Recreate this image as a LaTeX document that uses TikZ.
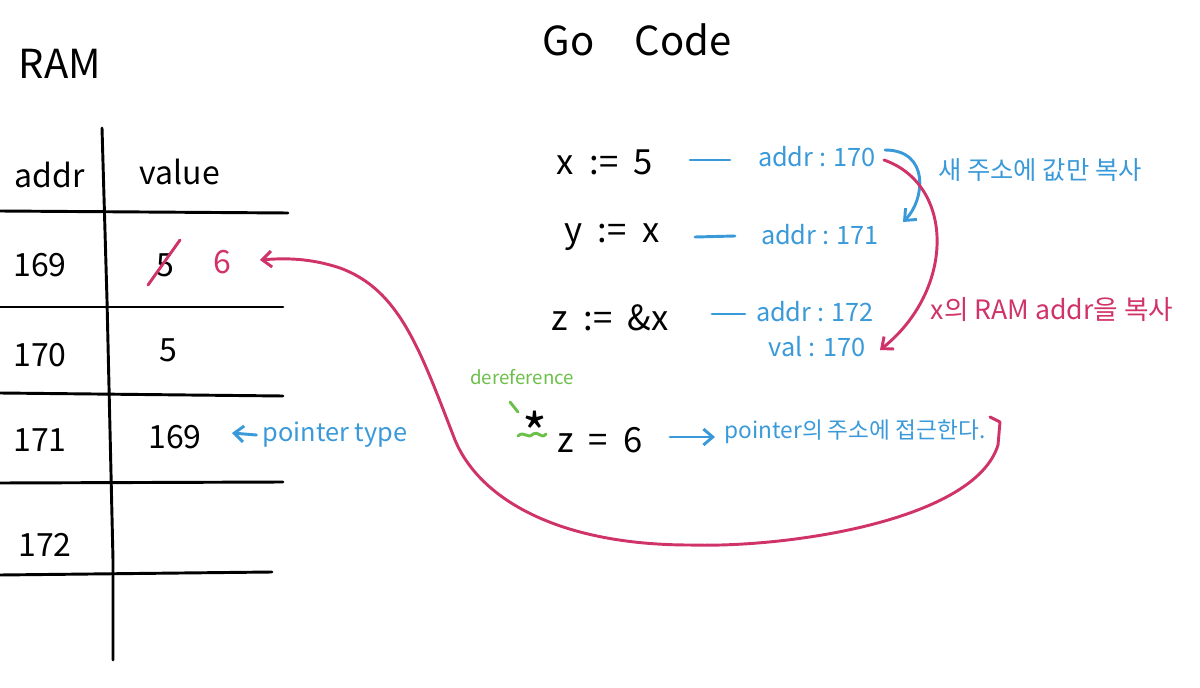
\documentclass[tikz,border=0pt]{standalone}
\usepackage{fontspec}
\setmainfont{Noto Sans CJK KR}
\usetikzlibrary{arrows.meta}
\definecolor{pblue}{HTML}{3A9AD9}
\definecolor{pred}{HTML}{D0336A}
\definecolor{pgreen}{HTML}{6CC04A}
\tikzset{
  ink/.style={line width=2.2pt, line cap=round, line join=round},
  blk/.style={ink, black},
  bl/.style={ink, pblue},
  rd/.style={ink, pred},
  gr/.style={ink, pgreen},
  tip/.style={-{Straight Barb[length=7pt,width=12pt]}},
  big/.style={font=\fontsize{30}{32}\selectfont, inner sep=0pt},
  cell/.style={font=\fontsize{24}{26}\selectfont, inner sep=0pt},
  code/.style={font=\fontsize{26}{28}\selectfont, inner sep=0pt},
  note/.style={font=\fontsize{19}{21}\selectfont, inner sep=0pt},
}
\begin{document}
\begin{tikzpicture}[x=0.75pt,y=-0.75pt]
\useasboundingbox (0,0) rectangle (1200,688);
% titles
\node[big] (ram) at (60,64) {RAM};
\node[big] (go) at (637,40) {Go\hspace{1em}Code};
% table
\draw[blk] (102,128) -- (107,300) -- (113,560) -- (113,660);
\draw[blk] (0,211) -- (288,213);
\draw[blk] (0,307) -- (283,307);
\draw[blk] (0,393) -- (283,396);
\draw[blk] (0,483) -- (283,482);
\draw[blk] (0,575) -- (272,572);
\node[cell] (haddr) at (50,175) {addr};
\node[cell] (hval) at (180,172) {value};
\node[cell] (a169) at (40,265) {169};
\node[cell] (v169) at (165,265) {5};
\draw[rd] (148,285) -- (180,240);
\node[cell, text=pred] (six) at (222,262) {6};
\node[cell] (a170) at (40,355) {170};
\node[cell] (v170) at (168,350) {5};
\node[cell] (a171) at (40,440) {171};
\node[cell] (v171) at (175,437) {169};
\node[note, text=pblue] (ptype) at (335,435) {pointer type};
\draw[bl, tip] (ptype.west) ++(-6,0) coordinate (pt0) -- (232,433) coordinate (pt1);
\node[cell] (a172) at (45,545) {172};
% Go code lines
\node[code] (lx) at (605,162) {x\ \ :=\ \ 5};
\node[code] (ly) at (612,237) {y\ \ :=\ \ x};
\node[code] (lz) at (610,318) {z\ \ :=\ \ \&x};
\node[note, text=pblue] (ax) at (817,157) {addr : 170};
\node[note, text=pblue] (ay) at (820,235) {addr : 171};
\node[note, text=pblue] (az) at (815,312) {addr : 172};
\node[note, text=pblue] (vz) at (817,347) {val : 170};
\draw[bl] (690,160) -- (730,160);
\draw[bl] (695,237) -- (735,236);
\draw[bl] (712,314) -- (745,314);
% blue copy arrow
\draw[bl, tip] (885,150) .. controls (930,150) and (925,200) .. (903,222);
\node[note, text=pblue] (copytxt) at (1040,170) {새 주소에 값만 복사};
% red addr arrow
\draw[rd, tip] (884,160) .. controls (955,185) and (955,290) .. (880,350);
\node[note, text=pred, font=\fontsize{20}{22}\selectfont] (addrtxt) at (1052,310) {x의 RAM addr을 복사};
% dereference
\node[font=\fontsize{14}{16}\selectfont, inner sep=0pt, text=pgreen] (deref) at (522,377) {dereference};
\draw[gr] (510,402) -- (518,412);
\node[font=\fontsize{40}{40}\selectfont, inner sep=0pt] (star) at (535,432) {*};
\draw[gr] (518,436) .. controls (524,430) and (528,440) .. (533,434) .. controls (538,430) and (541,440) .. (546,434);
\node[code] (lstar) at (600,440) {z\ \ =\ \ 6};
\draw[bl, tip] (670,437) -- (715,437);
\node[note, text=pblue, font=\fontsize{17}{19}\selectfont] (acc) at (855,432) {pointer의 주소에 접근한다.};
% long red arrow
\coordinate (rs) at (990,417);
\coordinate (rend) at (260,260);
\draw[rd, tip] (rs) -- (1000,422) -- (998,445) .. controls (975,520) and (790,548) .. (690,545)
  .. controls (560,545) and (480,500) .. (455,440)
  .. controls (420,350) and (400,290) .. (340,268)
  .. controls (310,258) and (285,258) .. (rend);
\end{tikzpicture}
\end{document}
